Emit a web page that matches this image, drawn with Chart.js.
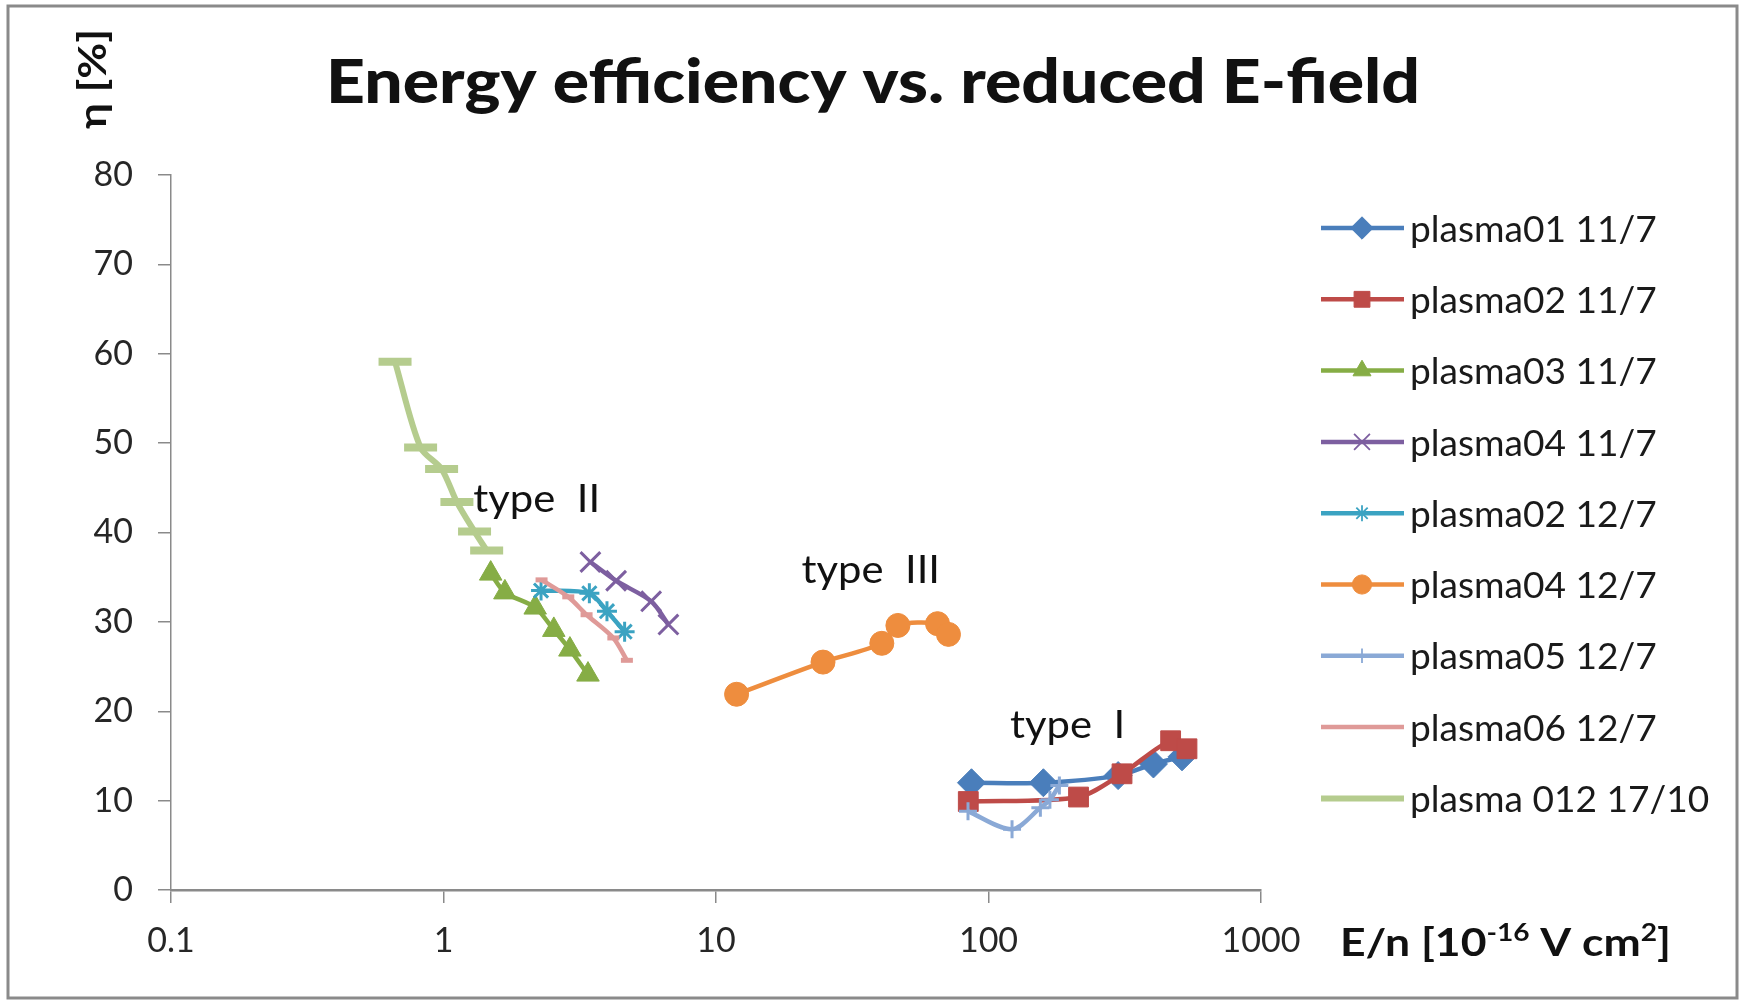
<!DOCTYPE html>
<html>
<head>
<meta charset="utf-8">
<title>Energy efficiency vs. reduced E-field</title>
<script src="https://cdn.jsdelivr.net/npm/chart.js@4.4.1/dist/chart.umd.min.js"></script>
<style>
  body{ margin:0; background:#ffffff; }
  canvas{ display:block; }
</style>
</head>
<body>
<canvas id="effChart" width="1744" height="1001"></canvas>
<script>

// ------------------------------
// Data (E/n in 1e-16 V cm2, eta in %)
// ------------------------------

const seriesNames = [
    "plasma01 11/7", "plasma02 11/7", "plasma03 11/7", "plasma04 11/7",
    "plasma02 12/7", "plasma04 12/7", "plasma05 12/7", "plasma06 12/7",
    "plasma 012 17/10"
];

const plasma01_11_7_E   = [86.6, 159, 299, 403, 513];
const plasma01_11_7_eta = [12.0, 12.0, 12.8, 14.1, 14.9];

const plasma02_11_7_E   = [84.3, 214, 309, 466, 535];
const plasma02_11_7_eta = [9.9, 10.4, 13.0, 16.7, 15.8];

const plasma03_11_7_E   = [1.49, 1.68, 2.17, 2.54, 2.91, 3.39];
const plasma03_11_7_eta = [35.4, 33.3, 31.6, 29.1, 26.9, 24.1];

const plasma04_11_7_E   = [3.46, 4.30, 5.78, 6.69];
const plasma04_11_7_eta = [36.7, 34.6, 32.3, 29.7];

const plasma02_12_7_E   = [2.28, 3.43, 3.98, 4.62];
const plasma02_12_7_eta = [33.5, 33.2, 31.2, 28.9];

const plasma04_12_7_E   = [11.9, 24.7, 40.6, 46.5, 65.0, 71.3];
const plasma04_12_7_eta = [21.9, 25.5, 27.6, 29.6, 29.8, 28.6];

const plasma05_12_7_E   = [84.1, 122, 155, 168, 182];
const plasma05_12_7_eta = [8.8, 6.8, 9.2, 10.1, 11.7];

const plasma06_12_7_E   = [2.29, 2.87, 3.35, 4.20, 4.71];
const plasma06_12_7_eta = [34.7, 32.8, 30.8, 28.2, 25.7];

const plasma012_17_10_E   = [0.664, 0.824, 0.984, 1.12, 1.30, 1.44];
const plasma012_17_10_eta = [59.1, 49.5, 47.1, 43.4, 40.1, 38.0];

const xTickValues = [0.1, 1, 10, 100, 1000];
const yMin = 0, yMax = 80, yStep = 10;

// text labels placed in the plot (data coords of left/baseline)
const annotationText = ["type  II", "type  III", "type  I"];
const annotationE    = [1.286, 20.6, 120];
const annotationEta  = [42.3, 34.3, 17.0];

// ------------------------------
// Styles
// ------------------------------

const seriesE   = [plasma01_11_7_E, plasma02_11_7_E, plasma03_11_7_E, plasma04_11_7_E,
                   plasma02_12_7_E, plasma04_12_7_E, plasma05_12_7_E, plasma06_12_7_E, plasma012_17_10_E];
const seriesEta = [plasma01_11_7_eta, plasma02_11_7_eta, plasma03_11_7_eta, plasma04_11_7_eta,
                   plasma02_12_7_eta, plasma04_12_7_eta, plasma05_12_7_eta, plasma06_12_7_eta, plasma012_17_10_eta];

const colors     = ["#4a7ebb", "#be4b48", "#86ad45", "#7d5fa0", "#3ba3c2", "#ee8d3e", "#8aa9d6", "#df9a98", "#b5cc8e"];
const markers    = ["rectRot", "rect", "triangle", "crossRot", "star", "circle", "cross", "line", "line"];
const markerSize = [14, 14, 13, 14, 10, 12, 9, 6, 16.5];
const markerLine = [1, 1, 1, 3, 3, 1, 3, 5, 8];
const lineWidths = [4.5, 4.5, 4.5, 4.5, 4.5, 4.5, 4.5, 4.5, 6];

const FONT = "Lato, 'Open Sans', 'Liberation Sans', sans-serif";

const datasets = seriesNames.map(function(name, i){
    return {
        label: name,
        data: seriesE[i].map(function(e, k){ return { x: e, y: seriesEta[i][k] }; }),
        showLine: true,
        borderColor: colors[i],
        backgroundColor: colors[i],
        borderWidth: lineWidths[i],
        tension: 0.3,
        pointStyle: markers[i],
        pointRadius: markerSize[i],
        pointHoverRadius: markerSize[i],
        pointBorderWidth: markerLine[i],
        pointBackgroundColor: colors[i],
        pointBorderColor: colors[i],
        order: seriesNames.length - i
    };
});

// ------------------------------
// Helpers
// ------------------------------

function drawStretched(ctx, text, x, y, font, align, sx){
    ctx.save();
    ctx.font = font;
    ctx.textAlign = align;
    ctx.translate(x, y);
    ctx.scale(sx, 1);
    ctx.fillText(text, 0, 0);
    ctx.restore();
}

function fitScale(ctx, text, font, target){
    ctx.save();
    ctx.font = font;
    const w = ctx.measureText(text).width;
    ctx.restore();
    return target / w;
}

// ------------------------------
// Decorations plugin
// ------------------------------

const decorPlugin = {
    id: "decor",

    beforeDraw: function(chart){
        const ctx = chart.ctx;
        ctx.save();
        ctx.fillStyle = "#ffffff";
        ctx.fillRect(0, 0, chart.width, chart.height);
        ctx.strokeStyle = "#8a8a8a";
        ctx.lineWidth = 3;
        ctx.strokeRect(8, 6, 1729, 992);
        ctx.restore();
    },

    afterDraw: function(chart){
        const ctx = chart.ctx;
        const xs = chart.scales.x;
        const ys = chart.scales.y;

        ctx.save();
        ctx.fillStyle = "#111111";
        ctx.textBaseline = "alphabetic";

        // Title
        const titleText = "Energy efficiency vs. reduced E-field";
        const titleFont = "900 60px " + FONT;
        drawStretched(ctx, titleText, 873, 103, titleFont, "center",
            fitScale(ctx, titleText, titleFont, 1094));

        // Y axis title (rotated)
        const yTitle = "η [%]";
        const yFont = "bold 38px " + FONT;
        ctx.save();
        ctx.translate(106, 79);
        ctx.rotate(-Math.PI / 2);
        drawStretched(ctx, yTitle, 0, 0, yFont, "center", fitScale(ctx, yTitle, yFont, 100));
        ctx.restore();

        // X axis title with superscripts
        const parts = [
            { t: "E/n [10", sup: false },
            { t: "-16", sup: true },
            { t: " V cm", sup: false },
            { t: "2", sup: true },
            { t: "]", sup: false }
        ];
        const mainFont = "bold 38px " + FONT;
        const supFont = "bold 24px " + FONT;
        let total = 0;
        parts.forEach(function(p){
            ctx.font = p.sup ? supFont : mainFont;
            p.w = ctx.measureText(p.t).width;
            total += p.w;
        });
        ctx.save();
        ctx.translate(1340, 956);
        ctx.scale(331 / total, 1);
        let cx = 0;
        ctx.textAlign = "left";
        parts.forEach(function(p){
            ctx.font = p.sup ? supFont : mainFont;
            ctx.fillText(p.t, cx, p.sup ? -15 : 0);
            cx += p.w;
        });
        ctx.restore();

        // In-plot labels
        annotationText.forEach(function(t, i){
            drawStretched(ctx, t,
                xs.getPixelForValue(annotationE[i]),
                ys.getPixelForValue(annotationEta[i]),
                "38px " + FONT, "left", 1.1);
        });

        // Legend
        chart.data.datasets.forEach(function(ds, i){
            const ly = 228 + i * 71.3;
            ctx.save();
            ctx.strokeStyle = ds.borderColor;
            ctx.lineWidth = ds.borderWidth;
            ctx.beginPath();
            ctx.moveTo(1321, ly);
            ctx.lineTo(1404, ly);
            ctx.stroke();
            ctx.fillStyle = ds.pointBackgroundColor;
            ctx.strokeStyle = ds.pointBorderColor;
            ctx.lineWidth = Math.max(1, ds.pointBorderWidth * 0.6);
            Chart.helpers.drawPoint(ctx, {
                pointStyle: ds.pointStyle,
                radius: ds.pointRadius * 0.8,
                borderWidth: ds.pointBorderWidth,
                rotation: 0
            }, 1362, ly);
            ctx.restore();
            ctx.fillStyle = "#1a1a1a";
            ctx.textBaseline = "middle";
            drawStretched(ctx, ds.label, 1410, ly + 2, "36px " + FONT, "left", 1.03);
        });

        ctx.restore();
    }
};

// ------------------------------
// Chart
// ------------------------------

const axisColor = "#8a8a8a";
const tickFont = { family: FONT, size: 34 };

new Chart(document.getElementById("effChart"), {

    type: "scatter",

    data: { datasets: datasets },

    options: {
        responsive: false,
        devicePixelRatio: 1,
        animation: false,
        layout: { padding: { left: 0, top: 175, right: 483, bottom: 0 } },
        plugins: {
            legend: { display: false },
            title: { display: false },
            tooltip: { enabled: false }
        },
        scales: {
            x: {
                type: "logarithmic",
                min: xTickValues[0],
                max: xTickValues[xTickValues.length - 1],
                afterBuildTicks: function(scale){
                    scale.ticks = xTickValues.map(function(v){ return { value: v }; });
                },
                afterFit: function(scale){ scale.height = 111; },
                ticks: {
                    autoSkip: false,
                    maxRotation: 0,
                    padding: 18,
                    color: "#262626",
                    font: tickFont,
                    callback: function(value){ return String(value); }
                },
                grid: {
                    drawOnChartArea: false,
                    drawTicks: true,
                    tickLength: 13,
                    color: axisColor,
                    lineWidth: 1.5
                },
                border: { display: true, color: axisColor, width: 2.5 }
            },
            y: {
                min: yMin,
                max: yMax,
                afterFit: function(scale){ scale.width = 171; },
                ticks: {
                    stepSize: yStep,
                    padding: 25,
                    color: "#262626",
                    font: tickFont
                },
                grid: {
                    drawOnChartArea: false,
                    drawTicks: true,
                    tickLength: 13,
                    color: axisColor,
                    lineWidth: 1.5
                },
                border: { display: true, color: axisColor, width: 1.5 }
            }
        }
    },

    plugins: [decorPlugin]

});

</script>
</body>
</html>
